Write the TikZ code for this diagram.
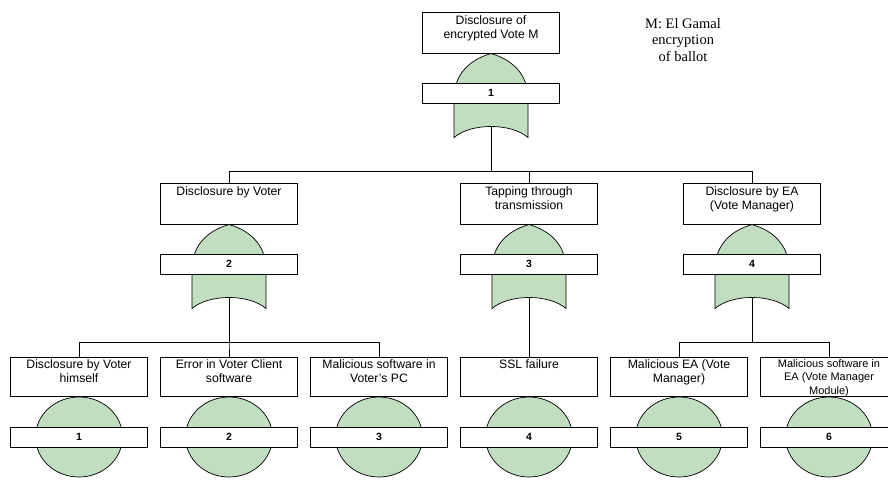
\documentclass[tikz,border=0pt]{standalone}
\usepackage{fontspec}
\setmainfont{Liberation Sans}
\newfontfamily\tmsfont{Liberation Serif}
\usetikzlibrary{positioning,shapes.geometric}
\definecolor{gatefill}{RGB}{193,222,192}
\newcommand{\evtext}[1]{\parbox[c][35pt][t]{135pt}{\centering\strut #1}}

\begin{document}
\begin{tikzpicture}[x=1pt, y=-1pt, line width=0.7pt,
  font=\fontsize{12.2}{14}\selectfont,
  evbox/.style={draw, fill=white, minimum width=137, minimum height=41,
                inner sep=0pt, outer sep=0pt},
  numbox/.style={draw, fill=white, minimum width=137, minimum height=20,
                 inner sep=0pt, outer sep=0pt,
                 font=\bfseries\fontsize{10.5}{12}\selectfont},
  basic/.style={draw, ellipse, fill=gatefill, minimum width=87,
                minimum height=80, inner sep=0pt},
  orgate/.pic={
    \path[draw, fill=gatefill] (-37,44) -- (-37,5)
      .. controls (-37,-17) and (-24,-33) .. (0,-40)
      .. controls (24,-33) and (37,-17) .. (37,5) -- (37,44)
      .. controls (20,29.3) and (-20,29.3) .. (-37,44) -- cycle;
    \coordinate (-out) at (0,33);
  }]
\useasboundingbox (0,0) rectangle (888,479);
\clip (0,0) rectangle (888,479);

% top event
\node[evbox] (top) at (491,32.5) {\evtext{Disclosure of\\encrypted Vote M}};
\pic (og1) at ([yshift=-40.5pt]top.south) {orgate};
\node[numbox, below=30pt of top] (g1) {1};

\node[font=\tmsfont\fontsize{14.5}{16.5}\selectfont, align=center,
      inner sep=0pt, anchor=north] (note) at (683,18)
  {M: El Gamal\\encryption\\of ballot};

% intermediate events
\node[evbox] (voter) at (229,203.5) {\evtext{Disclosure by Voter}};
\node[evbox] (tap) at (529,203.5) {\evtext{Tapping through\\transmission}};
\node[evbox] (ea) at (752,203.5) {\evtext{Disclosure by EA\\(Vote Manager)}};

\pic (og2) at ([yshift=-40.5pt]voter.south) {orgate};
\pic (og3) at ([yshift=-40.5pt]tap.south) {orgate};
\pic (og4) at ([yshift=-40.5pt]ea.south) {orgate};
\node[numbox, below=30pt of voter] (g2) {2};
\node[numbox, below=30pt of tap] (g3) {3};
\node[numbox, below=30pt of ea] (g4) {4};

% basic events
\node[evbox, minimum height=39] (b1) at (79,376.5)
  {\evtext{Disclosure by Voter\\himself}};
\node[evbox, minimum height=39, right=13pt of b1] (b2)
  {\evtext{Error in Voter Client\\software}};
\node[evbox, minimum height=39, right=13pt of b2] (b3)
  {\evtext{Malicious software in\\Voter's PC}};
\node[evbox, minimum height=39, right=13pt of b3] (b4)
  {\evtext{SSL failure}};
\node[evbox, minimum height=39, right=13pt of b4] (b5)
  {\evtext{Malicious EA (Vote\\Manager)}};
\node[evbox, minimum height=39, right=13pt of b5,
      font=\fontsize{11}{13.5}\selectfont] (b6)
  {\parbox[c][37pt][t]{135pt}{\centering\strut Malicious software in\\
    EA (Vote Manager\\Module)}};

\foreach \i in {1,...,6} {
  \node[basic] (c\i) at ([yshift=-41pt]b\i.south) {};
  \node[numbox, below=31pt of b\i] (n\i) {\i};
}

% connectors
\draw (og1-out) -- ++(0,45) -| (voter.north);
\draw (og1-out) -- ++(0,45) -| (tap.north);
\draw (og1-out) -- ++(0,45) -| (ea.north);
\draw (og2-out) -- ++(0,45) -| (b1.north);
\draw (og2-out) -- ++(0,45) -| (b2.north);
\draw (og2-out) -- ++(0,45) -| (b3.north);
\draw (og3-out) -- (b4.north);
\draw (og4-out) -- ++(0,45) -| (b5.north);
\draw (og4-out) -- ++(0,45) -| (b6.north);
\end{tikzpicture}
\end{document}
